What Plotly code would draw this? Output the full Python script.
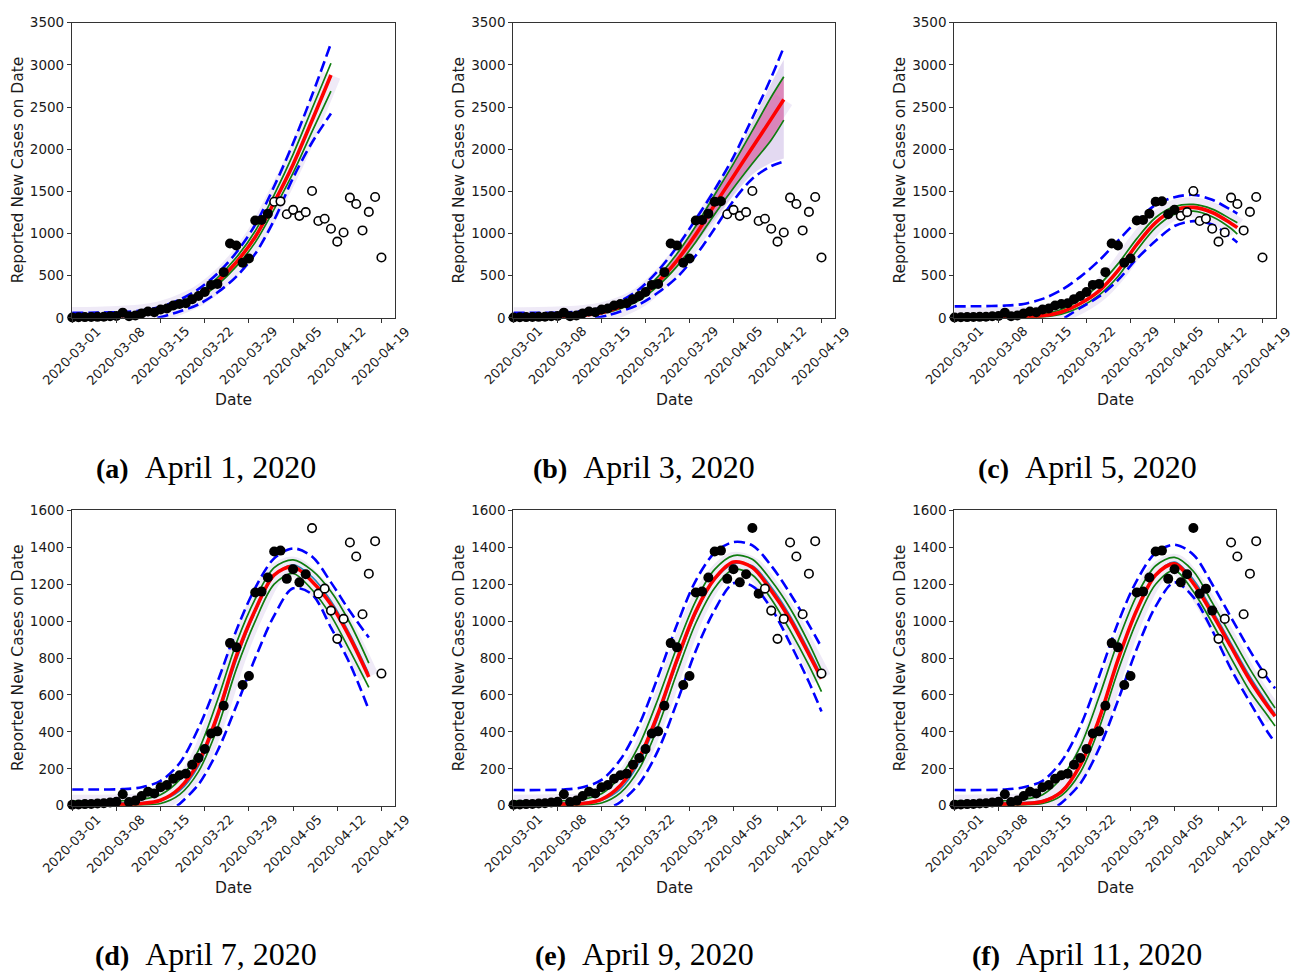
import plotly.graph_objects as go
import pandas as pd

W, H = 1299, 980
BASE = pd.Timestamp("2020-03-01")

# ---------------- observed daily reported new cases (2020-03-01 .. 2020-04-19)
obs_cases = [5, 7, 9, 10, 12, 14, 18, 22, 62, 20, 28, 53, 76, 67, 100, 112, 146, 165, 174, 222,
             259, 307, 391, 403, 542, 881, 858, 654, 703, 1155, 1160, 1236, 1377, 1382, 1229, 1281,
             1210, 1254, 1504, 1149, 1176, 1057, 904, 1012, 1426, 1350, 1037, 1257, 1433, 716]

panel_letters = ["a", "b", "c", "d", "e", "f"]
panel_dates = ["April 1, 2020", "April 3, 2020", "April 5, 2020",
               "April 7, 2020", "April 9, 2020", "April 11, 2020"]
fit_last_day = [31, 33, 35, 37, 39, 41]          # last observation used (days after 03-01)
y_max = [3500, 3500, 3500, 1600, 1600, 1600]
y_step = [500, 500, 500, 200, 200, 200]
tick_labels = ["2020-03-01", "2020-03-08", "2020-03-15", "2020-03-22",
               "2020-03-29", "2020-04-05", "2020-04-12", "2020-04-19"]

# ---------------- model curves
a_days = [0, 4, 8, 11, 14, 17, 20, 23, 26, 29, 32, 35, 38, 41]
a_red = [10, 14, 26, 42, 80, 155, 260, 430, 660, 960, 1370, 1820, 2340, 2880]
a_green_hi = [14, 19, 33, 54, 98, 180, 295, 475, 715, 1030, 1460, 1940, 2480, 3020]
a_green_lo = [7, 10, 19, 32, 64, 130, 230, 390, 610, 895, 1290, 1720, 2210, 2690]
a_blue_hi = [60, 62, 70, 88, 132, 215, 340, 525, 775, 1105, 1560, 2070, 2640, 3255]
a_blue_lo_days = [13.5, 17, 20, 23, 26, 29, 32, 35, 38, 41]
a_blue_lo = [0, 75, 160, 300, 490, 760, 1160, 1660, 2080, 2423]

b_days = [0, 4, 8, 11, 14, 17, 20, 23, 26, 29, 32, 35, 38, 41, 43]
b_red = [8, 10, 19, 32, 62, 130, 240, 430, 680, 990, 1340, 1680, 2020, 2360, 2590]
b_green_hi = [10, 13, 24, 42, 80, 160, 285, 490, 760, 1090, 1460, 1830, 2220, 2620, 2860]
b_green_lo = [6, 8, 15, 26, 50, 110, 210, 380, 610, 900, 1230, 1540, 1830, 2110, 2345]
b_blue_hi = [60, 60, 63, 80, 120, 200, 340, 560, 840, 1170, 1520, 1910, 2370, 2850, 3210]
b_blue_lo_days = [13, 15, 17, 20, 23, 26, 29, 32, 35, 38, 41, 43]
b_blue_lo = [0, 30, 75, 160, 300, 480, 740, 1060, 1390, 1650, 1800, 1855]
b_fan_days = [29, 32, 35, 38, 41, 43]
b_fan_hi = [1120, 1500, 1880, 2320, 2780, 3060]
b_fan_lo = [880, 1170, 1450, 1700, 1840, 1890]

c_days = [0, 4, 8, 11, 14, 17, 20, 23, 26, 29, 32, 35, 38, 41, 44, 45]
c_red = [4, 5, 8, 12, 25, 70, 170, 320, 560, 870, 1130, 1280, 1310, 1250, 1120, 1070]
c_green_hi = [18, 18, 20, 26, 45, 100, 215, 390, 640, 940, 1190, 1320, 1345, 1290, 1170, 1128]
c_green_lo = [2, 3, 4, 6, 12, 45, 130, 270, 490, 800, 1070, 1230, 1265, 1200, 1060, 992]
c_blue_hi = [136, 138, 145, 165, 225, 330, 486, 680, 914, 1147, 1342, 1431, 1459, 1400, 1280, 1237]
c_blue_lo_days = [17.5, 20, 23, 26, 29, 32, 35, 38, 41, 44, 45]
c_blue_lo = [0, 117, 253, 447, 700, 914, 1089, 1147, 1108, 953, 895]

d_days = [0, 4, 8, 11, 14, 17, 20, 23, 26, 29, 32, 35, 38, 41, 44, 47]
d_red = [5, 6, 8, 12, 30, 95, 235, 490, 810, 1060, 1250, 1295, 1215, 1090, 911, 698]
d_teal = [15, 15, 16, 18, 28, 80, 215, 470, 790, 1050, 1245, 1305, 1240, 1110, 930, 715]
d_green_hi = [25, 25, 27, 35, 60, 140, 300, 570, 880, 1120, 1290, 1332, 1275, 1160, 990, 773]
d_green_lo = [2, 2, 3, 5, 12, 60, 185, 420, 740, 1000, 1200, 1258, 1170, 1030, 840, 641]
d_blue_hi = [88, 88, 90, 100, 135, 230, 420, 670, 950, 1180, 1340, 1394, 1350, 1210, 1053, 911]
d_blue_lo_days = [16.6, 17, 20, 23, 26, 29, 32, 35, 38, 41, 44, 47]
d_blue_lo = [0, 10, 115, 295, 540, 800, 1030, 1178, 1145, 965, 769, 520]

e_days = [0, 4, 8, 11, 14, 17, 20, 23, 26, 29, 32, 35, 38, 41, 44, 47, 49]
e_red = [6, 7, 9, 12, 35, 110, 260, 500, 790, 1053, 1230, 1320, 1290, 1165, 1010, 820, 689]
e_teal = [15, 15, 16, 18, 30, 90, 235, 480, 775, 1040, 1225, 1310, 1300, 1185, 1030, 840, 705]
e_green_hi = [25, 25, 27, 35, 65, 160, 330, 580, 860, 1110, 1280, 1355, 1335, 1220, 1070, 880, 733]
e_green_lo = [2, 2, 3, 5, 15, 70, 200, 430, 720, 990, 1180, 1280, 1250, 1120, 950, 760, 618]
e_blue_hi = [85, 85, 88, 100, 140, 250, 440, 700, 980, 1220, 1370, 1428, 1410, 1300, 1150, 980, 858]
e_blue_lo_days = [16, 17, 20, 23, 26, 29, 32, 35, 38, 41, 44, 47, 49]
e_blue_lo = [0, 20, 120, 300, 560, 840, 1060, 1205, 1190, 1070, 880, 670, 511]

f_days = [0, 4, 8, 11, 14, 17, 20, 23, 26, 29, 32, 35, 38, 41, 44, 47, 50, 51]
f_red = [6, 7, 9, 12, 23, 75, 220, 470, 790, 1060, 1250, 1310, 1205, 1040, 860, 680, 530, 485]
f_teal = [15, 15, 16, 18, 28, 80, 220, 470, 785, 1055, 1250, 1320, 1225, 1060, 880, 700, 545, 498]
f_green_hi = [25, 25, 27, 35, 60, 150, 320, 590, 890, 1140, 1300, 1345, 1270, 1100, 920, 740, 580, 529]
f_green_lo = [2, 2, 3, 5, 12, 55, 180, 420, 730, 1000, 1200, 1275, 1160, 990, 800, 620, 480, 432]
f_blue_hi = [85, 85, 88, 100, 135, 240, 430, 700, 990, 1220, 1370, 1414, 1360, 1200, 1020, 840, 680, 636]
f_blue_lo_days = [16.4, 17, 20, 23, 26, 29, 32, 35, 38, 41, 44, 47, 50, 51]
f_blue_lo = [0, 15, 120, 310, 570, 850, 1080, 1210, 1130, 950, 740, 560, 390, 343]

panels = [
    dict(days=a_days, red=a_red, ghi=a_green_hi, glo=a_green_lo, bhi=a_blue_hi,
         blo_days=a_blue_lo_days, blo=a_blue_lo, teal=None),
    dict(days=b_days, red=b_red, ghi=b_green_hi, glo=b_green_lo, bhi=b_blue_hi,
         blo_days=b_blue_lo_days, blo=b_blue_lo, teal=None),
    dict(days=c_days, red=c_red, ghi=c_green_hi, glo=c_green_lo, bhi=c_blue_hi,
         blo_days=c_blue_lo_days, blo=c_blue_lo, teal=None),
    dict(days=d_days, red=d_red, ghi=d_green_hi, glo=d_green_lo, bhi=d_blue_hi,
         blo_days=d_blue_lo_days, blo=d_blue_lo, teal=d_teal),
    dict(days=e_days, red=e_red, ghi=e_green_hi, glo=e_green_lo, bhi=e_blue_hi,
         blo_days=e_blue_lo_days, blo=e_blue_lo, teal=e_teal),
    dict(days=f_days, red=f_red, ghi=f_green_hi, glo=f_green_lo, bhi=f_blue_hi,
         blo_days=f_blue_lo_days, blo=f_blue_lo, teal=f_teal),
]

# ---------------- layout geometry (pixels)
col_px = [(72, 395), (513.3, 835), (954.3, 1276)]
row_px = [(15, 315), (510.7, 811)]
caption_cx = [206, 644, 1087]
caption_cy = [467, 962]
date_label_cy = [398, 895]

FONT = "DejaVu Sans"
SERIF = "Liberation Serif"
INK = "#1a1a1a"


def d2t(days):
    return [BASE + pd.Timedelta(days=float(d)) for d in days]


def px2x(px):
    return px / W


def py2y(py):
    return 1 - py / H


obs_dates = d2t(range(len(obs_cases)))
x_range = [BASE - pd.Timedelta(hours=1), BASE + pd.Timedelta(days=51.15)]

fig = go.Figure()
annotations = []
layout = dict(width=W, height=H, margin=dict(l=0, r=0, t=0, b=0),
              paper_bgcolor="white", plot_bgcolor="white", showlegend=False)

for i, p in enumerate(panels):
    r, c = divmod(i, 3)
    s = "" if i == 0 else str(i + 1)
    xa, ya = "x" + s, "y" + s
    x = d2t(p["days"])
    spl = dict(shape="spline", smoothing=0.9)

    # lavender glow of the sampled trajectories
    fig.add_trace(go.Scatter(x=x, y=p["red"], mode="lines", xaxis=xa, yaxis=ya, hoverinfo="skip",
                             line=dict(color="rgba(180,160,220,0.22)", width=20, **spl)))
    if i == 1:
        fx = d2t(b_fan_days)
        fig.add_trace(go.Scatter(x=fx, y=b_fan_lo, mode="lines", xaxis=xa, yaxis=ya, hoverinfo="skip",
                                 line=dict(width=0, **spl)))
        fig.add_trace(go.Scatter(x=fx, y=b_fan_hi, mode="lines", xaxis=xa, yaxis=ya, hoverinfo="skip",
                                 fill="tonexty", fillcolor="rgba(200,180,228,0.5)",
                                 line=dict(width=0, **spl)))
        fig.add_trace(go.Scatter(x=x, y=p["glo"], mode="lines", xaxis=xa, yaxis=ya, hoverinfo="skip",
                                 line=dict(width=0, **spl)))
        fig.add_trace(go.Scatter(x=x, y=p["ghi"], mode="lines", xaxis=xa, yaxis=ya, hoverinfo="skip",
                                 fill="tonexty", fillcolor="rgba(215,60,135,0.5)",
                                 line=dict(width=0, **spl)))

    for key in ("ghi", "glo"):
        fig.add_trace(go.Scatter(x=x, y=p[key], mode="lines", xaxis=xa, yaxis=ya, hoverinfo="skip",
                                 line=dict(color="#0f7d0f", width=1.7, **spl)))
    if p["teal"] is not None:
        fig.add_trace(go.Scatter(x=x, y=p["teal"], mode="lines", xaxis=xa, yaxis=ya, hoverinfo="skip",
                                 line=dict(color="#2a86b8", width=1.6, **spl)))
    fig.add_trace(go.Scatter(x=x, y=p["red"], mode="lines", xaxis=xa, yaxis=ya, hoverinfo="skip",
                             line=dict(color="#ff0000", width=3.6, **spl)))
    dash = dict(color="#0000ff", width=2.6, dash="11px,5px", **spl)
    fig.add_trace(go.Scatter(x=x, y=p["bhi"], mode="lines", xaxis=xa, yaxis=ya, hoverinfo="skip", line=dash))
    fig.add_trace(go.Scatter(x=d2t(p["blo_days"]), y=p["blo"], mode="lines", xaxis=xa, yaxis=ya,
                             hoverinfo="skip", line=dash))

    cut = fit_last_day[i]
    fig.add_trace(go.Scatter(x=obs_dates[:cut + 1], y=obs_cases[:cut + 1], mode="markers",
                             xaxis=xa, yaxis=ya, cliponaxis=False,
                             marker=dict(color="black", size=10, line=dict(width=0))))
    fig.add_trace(go.Scatter(x=obs_dates[cut + 1:], y=obs_cases[cut + 1:], mode="markers",
                             xaxis=xa, yaxis=ya, cliponaxis=False,
                             marker=dict(color="white", size=8.5, line=dict(color="black", width=1.6))))

    x0, x1 = col_px[c]
    y0, y1 = row_px[r]
    axis_common = dict(showline=True, mirror=True, linecolor="#333333", linewidth=1.2,
                       ticks="outside", ticklen=4, tickwidth=1, tickcolor="#333333",
                       showgrid=False, zeroline=False)
    layout["xaxis" + s] = dict(domain=[px2x(x0), px2x(x1)], anchor=ya, type="date", range=x_range,
                               tickvals=tick_labels, showticklabels=False, **axis_common)
    layout["yaxis" + s] = dict(domain=[py2y(y1), py2y(y0)], anchor=xa, range=[0, y_max[i]],
                               tickvals=list(range(0, y_max[i] + 1, y_step[i])),
                               tickfont=dict(family=FONT, size=13.5, color=INK), **axis_common)

    for t in tick_labels:
        annotations.append(dict(x=t, y=0, xref=xa, yref=ya, text=t, showarrow=False, textangle=-45,
                                xanchor="center", yanchor="top", yshift=-3,
                                font=dict(family=FONT, size=13, color=INK)))
    annotations.append(dict(x=px2x((x0 + x1) / 2), y=py2y(date_label_cy[r]), xref="paper", yref="paper",
                            text="Date", showarrow=False, xanchor="center", yanchor="middle",
                            font=dict(family=FONT, size=15.5, color=INK)))
    annotations.append(dict(x=px2x(x0 - 54), y=py2y((y0 + y1) / 2), xref="paper", yref="paper",
                            text="Reported New Cases on Date", textangle=-90, showarrow=False,
                            xanchor="center", yanchor="middle",
                            font=dict(family=FONT, size=15.5, color=INK)))
    annotations.append(dict(x=px2x(caption_cx[c]), y=py2y(caption_cy[r]), xref="paper", yref="paper",
                            text="<b><span style='font-size:28px'>(" + panel_letters[i] + ")</span></b>"
                                 "&nbsp;&nbsp;" + panel_dates[i],
                            showarrow=False, xanchor="center", yanchor="middle",
                            font=dict(family=SERIF, size=32, color="black")))

layout["annotations"] = annotations
fig.update_layout(**layout)
fig.write_html("out.html", config={"displayModeBar": False},
               post_script="document.body.style.margin='0';document.body.style.padding='0';")
